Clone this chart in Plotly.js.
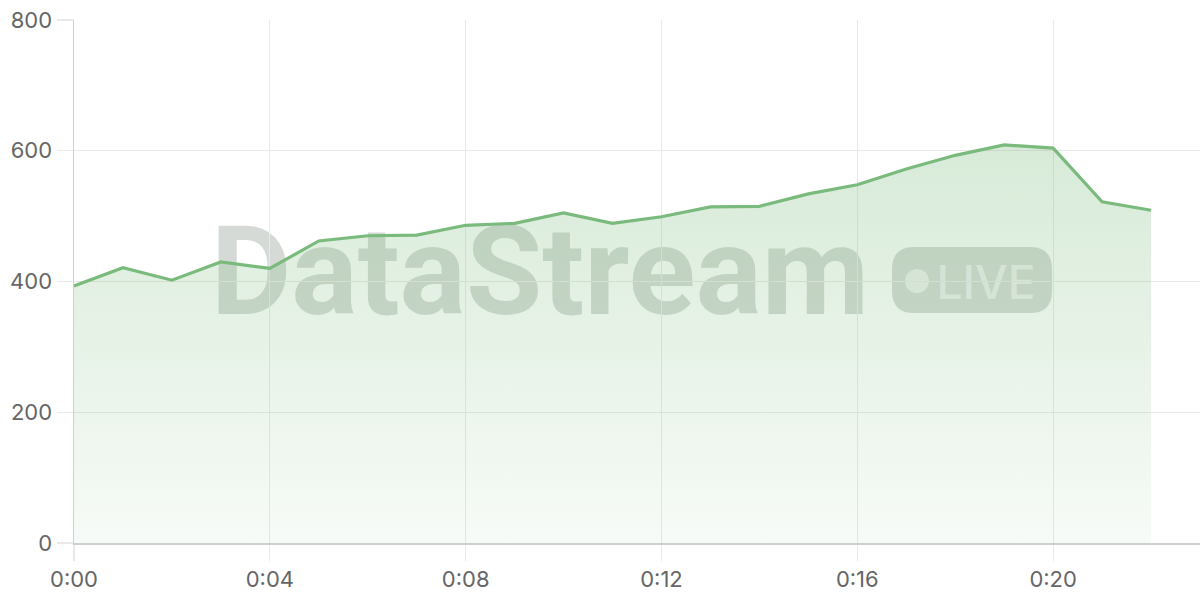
<!DOCTYPE html>
<html>
<head>
<meta charset="utf-8">
<script src="https://cdn.plot.ly/plotly-3.0.1.min.js"></script>
<style>
  html, body { margin: 0; padding: 0; background: #fff; }
  #chart { width: 1200px; height: 600px; }
</style>
</head>
<body>
<div id="chart"></div>
<script>
// data ------------------------------------------------------------------------
const minutes = [0, 1, 2, 3, 4, 5, 6, 7, 8, 9, 10, 11, 12, 13, 14, 15, 16, 17, 18, 19, 20, 21, 22];
const values = [393, 421, 402, 430, 420, 462, 470, 471, 486, 489, 505, 489, 499, 514, 515, 534, 548, 572, 593, 609, 604, 522, 509];
const tickMinutes = [0, 4, 8, 12, 16, 20];
const tickLabels = ["0:00", "0:04", "0:08", "0:12", "0:16", "0:20"];
const yTicks = [0, 200, 400, 600, 800];

// layout box (pixels) ---------------------------------------------------------
const W = 1200, H = 600;
const M = { l: 74, r: 0, t: 20, b: 57 };
const pw = W - M.l - M.r, ph = H - M.t - M.b;
const px = (x) => (x - M.l) / pw;
const py = (y) => (H - M.b - y) / ph;

function roundRect(x0, y0, x1, y1, r) {
	const rx = r / pw, ry = r / ph;
	const a = px(x0), b = px(x1), top = py(y0), bot = py(y1);
	return `M${a + rx},${top} L${b - rx},${top} Q${b},${top} ${b},${top - ry} ` +
		`L${b},${bot + ry} Q${b},${bot} ${b - rx},${bot} L${a + rx},${bot} ` +
		`Q${a},${bot} ${a},${bot + ry} L${a},${top - ry} Q${a},${top} ${a + rx},${top} Z`;
}

const green = "rgb(122,186,124)";
const wm = "rgba(105,118,105,0.27)";

var trace = {
	x: minutes,
	y: values,
	type: "scatter",
	mode: "lines",
	line: { color: green, width: 3.2 },
	fill: "tozeroy",
	fillgradient: {
		type: "vertical",
		start: 0,
		stop: Math.max(...values),
		colorscale: [
			[0, "rgba(122,186,124,0.06)"],
			[1, "rgba(122,186,124,0.30)"],
		],
	},
	hoverinfo: "x+y",
};

var axisStyle = {
	showgrid: true,
	gridcolor: "#e9e9e9",
	gridwidth: 1.2,
	zeroline: false,
	showline: true,
	linecolor: "#cfcfcf",
	linewidth: 1.5,
	ticks: "outside",
	ticklen: 16,
	tickcolor: "#e9e9e9",
	tickwidth: 1.2,
	tickfont: { size: 22, color: "#666" },
};

var layout = {
	width: W,
	height: H,
	margin: M,
	paper_bgcolor: "#fff",
	plot_bgcolor: "#fff",
	showlegend: false,
	font: { family: "Inter, 'Noto Sans', sans-serif", size: 22, color: "#666" },
	xaxis: Object.assign({ range: [0, 23], tickvals: tickMinutes, ticktext: tickLabels }, axisStyle),
	yaxis: Object.assign({ range: [0, 800], tickvals: yTicks }, axisStyle),
	shapes: [
		// watermark text
		{
			type: "rect", xref: "paper", yref: "paper", layer: "between",
			x0: px(180), x1: px(900), y0: py(325), y1: py(200),
			line: { width: 0 }, fillcolor: "rgba(0,0,0,0)",
			label: {
				text: "<b>DataStream</b>",
				font: { family: "Roboto, 'DejaVu Sans', sans-serif", size: 124, color: wm, weight: 900 },
				textposition: "middle center",
			},
		},
		// LIVE badge
		{
			type: "path", xref: "paper", yref: "paper", layer: "between",
			path: roundRect(892, 247, 1052, 313, 22),
			line: { width: 0 }, fillcolor: wm,
		},
		{
			type: "circle", xref: "paper", yref: "paper", layer: "between",
			x0: px(905), x1: px(929), y0: py(293), y1: py(269),
			line: { width: 0 }, fillcolor: "rgba(255,255,255,0.6)",
		},
		{
			type: "rect", xref: "paper", yref: "paper", layer: "between",
			x0: px(932), x1: px(1040), y0: py(305), y1: py(257),
			line: { width: 0 }, fillcolor: "rgba(0,0,0,0)",
			label: {
				text: "LIVE",
				font: { family: "Inter, 'Noto Sans', sans-serif", size: 46, color: "rgba(255,255,255,0.6)", weight: 500 },
				textposition: "middle center",
			},
		},
	],
};

Plotly.newPlot("chart", [trace], layout, { displayModeBar: false, staticPlot: true });
</script>
</body>
</html>
